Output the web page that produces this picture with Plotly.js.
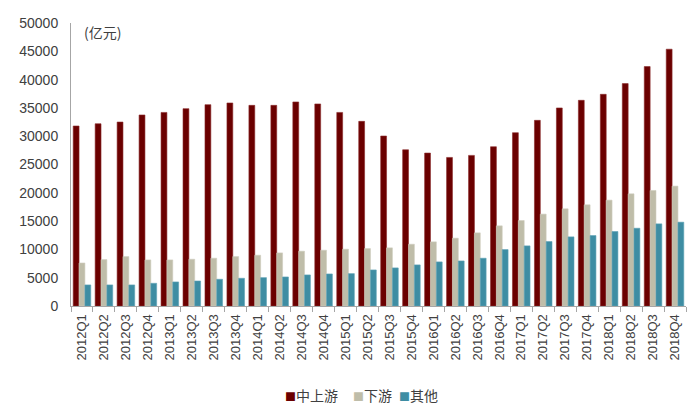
<!DOCTYPE html>
<html>
<head>
<meta charset="utf-8">
<script src="https://cdn.plot.ly/plotly-3.0.1.min.js"></script>
<style>
  html, body { margin: 0; padding: 0; background: #fff; }
  #chart { width: 700px; height: 411px; }
</style>
</head>
<body>
<div id="chart"></div>
<script>
    // quarters and values (亿元)
    var quarters = [
        '2012Q1','2012Q2','2012Q3','2012Q4',
        '2013Q1','2013Q2','2013Q3','2013Q4',
        '2014Q1','2014Q2','2014Q3','2014Q4',
        '2015Q1','2015Q2','2015Q3','2015Q4',
        '2016Q1','2016Q2','2016Q3','2016Q4',
        '2017Q1','2017Q2','2017Q3','2017Q4',
        '2018Q1','2018Q2','2018Q3','2018Q4'
    ];
    var upstream = [
        31800, 32200, 32500, 33750,
        34200, 34870, 35570, 35870,
        35450, 35450, 36050, 35700,
        34200, 32620, 30030, 27600,
        27020, 26250, 26610, 28140,
        30620, 32800, 34990, 36340,
        37400, 39290, 42300, 45370
    ];
    var downstream = [
        7600, 8200, 8730, 8140,
        8140, 8260, 8440, 8730,
        8970, 9380, 9680, 9850,
        10030, 10150, 10270, 10910,
        11330, 11980, 12920, 14160,
        15100, 16230, 17170, 17880,
        18700, 19820, 20410, 21180
    ];
    var others = [
        3720, 3720, 3720, 4010,
        4250, 4420, 4720, 4900,
        5010, 5130, 5490, 5660,
        5720, 6370, 6730, 7260,
        7790, 7960, 8440, 9970,
        10620, 11390, 12210, 12450,
        13160, 13740, 14510, 14810
    ];
    var seriesNames = ['中上游', '下游', '其他'];
    var seriesColors = ['#6B0000', '#BFBDA9', '#3E8DA3'];
    var yTicks = [0, 5000, 10000, 15000, 20000, 25000, 30000, 35000, 40000, 45000, 50000];

    var textFont = '"Liberation Sans", Arial, "Noto Sans CJK SC", sans-serif';
    var cjkFont = '"Noto Sans CJK SC", "Liberation Sans", sans-serif';
    var edgeColors = ['#8A2A2A', '#CFCDBD', '#5FA3B5'];

    var traces = [upstream, downstream, others].map(function (vals, i) {
        return {
            x: quarters, y: vals, name: seriesNames[i], type: 'bar',
            showlegend: false,
            marker: { color: seriesColors[i], line: { color: edgeColors[i], width: 0.6 } }
        };
    });

    // legend drawn as annotations so the little squares sit tight to the text
    var legendX = [283, 351, 397];
    var legendNotes = seriesNames.map(function (name, i) {
        return {
            text: '<span style="color:' + seriesColors[i] + ';font-size:11px">■</span>' + name,
            xref: 'paper', yref: 'paper',
            x: (legendX[i] - 71) / 615, y: (306 - 395) / 283,
            xanchor: 'left', yanchor: 'middle',
            showarrow: false,
            font: { family: cjkFont, size: 14, color: '#404040' }
        };
    });

    var layout = {
        width: 700,
        height: 411,
        margin: { l: 71, r: 14, t: 23, b: 105, autoexpand: false },
        paper_bgcolor: '#fff',
        plot_bgcolor: '#fff',
        barmode: 'group',
        bargap: 0.2,
        bargroupgap: 0,
        showlegend: false,
        font: { family: textFont, color: '#404040', size: 13 },
        xaxis: {
            type: 'category',
            showline: true,
            linecolor: '#A6A6A6',
            linewidth: 1,
            ticks: 'outside',
            tickson: 'boundaries',
            ticklen: 5,
            tickcolor: '#A6A6A6',
            tickangle: -90,
            ticklabelstandoff: 2,
            tickfont: { size: 13, family: textFont, color: '#404040' },
            showgrid: false,
            automargin: false
        },
        yaxis: {
            range: [0, 50000],
            tickvals: yTicks,
            ticktext: yTicks.map(String),
            showline: true,
            linecolor: '#A6A6A6',
            linewidth: 1,
            ticks: '',
            ticklabelstandoff: 9,
            showgrid: false,
            zeroline: false,
            automargin: false,
            tickfont: { size: 14, family: textFont, color: '#404040' }
        },
        annotations: [{
            text: '(亿元)',
            xref: 'paper', yref: 'paper',
            x: 0.018, y: (306 - 32) / 283,
            xanchor: 'left', yanchor: 'middle',
            showarrow: false,
            font: { family: cjkFont, size: 14, color: '#404040' }
        }].concat(legendNotes)
    };

    Plotly.newPlot('chart', traces, layout, { displayModeBar: false, staticPlot: true });
</script>
</body>
</html>
